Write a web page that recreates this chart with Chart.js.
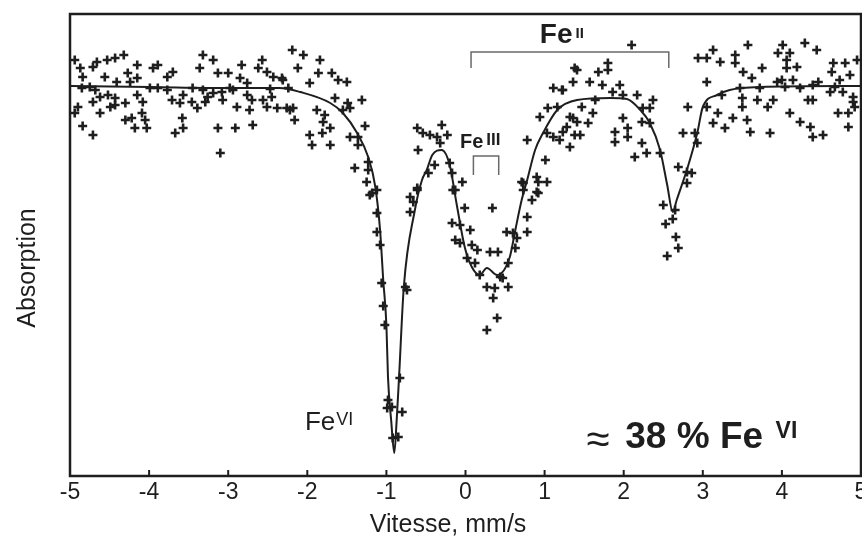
<!DOCTYPE html>
<html>
<head>
<meta charset="utf-8">
<script src="https://cdn.jsdelivr.net/npm/chart.js@4.4.1/dist/chart.umd.min.js"></script>
<style>
html,body{margin:0;padding:0;background:#fff;}
canvas{display:block;}
</style>
</head>
<body>
<canvas id="c" width="862" height="538"></canvas>
<script>
// ---- data (velocity in mm/s, relative transmission) ----
const xTicks = [-5, -4, -3, -2, -1, 0, 1, 2, 3, 4, 5];

const pointVelocity = [
  -4.94,-4.87,-4.66,-4.53,-4.43,-4.32,-4.15,-3.95,-3.89,-3.70,
  -3.77,-4.56,-4.41,-4.27,-4.15,-4.24,-4.84,-4.71,-4.85,-4.68,
  -4.90,-4.94,-4.84,-4.71,-4.62,-4.71,-4.62,-4.52,-4.43,-4.49,
  -4.43,-4.30,-4.15,-4.08,-4.09,-4.30,-4.22,-4.18,-4.03,-4.05,
  -3.89,-3.77,-3.71,-3.61,-3.58,-3.57,-3.67,-3.57,-3.45,-3.46,
  -3.39,-3.32,-3.26,-3.29,-3.19,-3.08,-3.07,-3.13,-2.91,-3.10,
  -2.94,-2.89,-2.76,-2.70,-2.69,-2.73,-2.56,-2.51,-2.45,-2.38,
  -2.26,-2.16,-2.22,-3.32,-3.19,-3.36,-3.13,-3.00,-2.83,-2.85,
  -2.76,-2.57,-2.62,-2.51,-2.43,-2.32,-2.19,-2.12,-4.75,-3.99,
  -2.98,-2.47,
  -2.05,-1.84,-1.86,-1.69,-1.61,-1.50,-1.97,-2.31,-2.24,-2.18,
  -1.88,-1.78,-1.80,-1.71,-1.97,-1.94,-1.71,-1.81,-1.65,-1.49,
  -1.46,-1.31,-1.55,-1.27,-1.46,-1.36,-1.36,-1.40,-1.23,-1.23,
  -1.25,-1.18,-1.12,-0.61,-0.54,-0.45,-0.36,-0.30,-0.32,-0.23,
  -0.60,-0.39,-0.47,-0.20,-0.04,-0.17,-0.13,-0.61,0.78,1.01,
  0.90,0.71,0.92,1.03,0.90,0.94,1.04,1.16,1.11,1.22,
  1.36,1.41,1.03,1.11,1.19,1.28,1.32,1.36,1.38,
  2.10,1.38,1.80,1.68,1.80,1.57,1.73,1.95,1.23,1.86,
  1.99,2.17,2.37,1.64,1.47,1.61,2.24,2.33,1.32,1.41,
  1.55,1.23,1.45,1.89,2.05,1.99,2.05,2.23,2.33,1.89,
  2.23,2.46,2.14,2.29,2.75,2.69,2.80,2.86,2.80,2.90,
  2.93,2.81,2.94,3.05,3.13,3.22,3.41,3.41,3.57,3.51,
  3.75,3.62,3.05,3.24,3.05,3.19,3.13,3.28,3.38,3.50,
  3.56,3.60,3.85,3.82,3.89,3.69,3.50,4.01,3.95,4.10,
  4.06,4.29,4.44,4.06,4.19,4.00,4.14,4.10,4.23,4.33,
  4.39,4.36,4.39,4.52,4.46,4.65,4.80,4.63,4.73,4.86,
  4.95,4.61,4.77,4.90,4.90,4.92,4.71,4.84,4.84,4.39,
  4.23,3.72,3.47,3.94,4.04,4.67,
  -1.21,-1.12,-1.12,-1.08,-1.06,-1.04,-1.02,-0.83,-0.76,-0.74,
  -0.70,-0.66,-0.70,-0.61,-0.16,-0.01,-0.17,-0.07,0.06,-0.13,
  -0.07,0.08,0.15,0.02,0.12,0.18,0.34,0.31,0.41,0.44,
  0.47,0.27,0.37,0.54,0.35,0.40,0.27,0.54,0.52,0.60,
  0.65,0.78,0.63,0.78,0.84,0.92,0.73,0.73,-0.98,-0.99,
  -0.93,-0.80,-0.92,-0.85,2.50,2.65,2.62,2.53,2.66,2.69,
  2.55
];

const pointSignal = [
  1.013,1.009,1.012,1.013,1.014,1.0155,1.0105,1.009,1.0105,1.007,
  1.0045,1.0045,1.002,1.0065,1.004,1.002,1.0045,1.0095,0.999,0.998,
  0.9895,0.9865,0.980,0.9755,0.9865,0.992,0.9945,0.9955,0.994,0.9895,
  0.9905,0.9915,0.9955,0.992,0.9865,0.983,0.984,0.979,0.979,0.983,
  0.999,0.998,0.993,0.9915,0.984,0.979,0.9765,0.9955,0.999,0.992,
  0.989,0.998,0.9945,0.992,0.9965,0.997,0.993,0.979,0.979,0.9665,
  0.998,0.9895,0.9955,0.993,0.9805,0.988,0.993,0.9895,0.9945,0.989,
  0.989,0.983,0.988,1.0155,1.013,1.009,1.0065,1.0065,1.0105,1.004,
  1.0015,1.013,1.009,1.007,1.0045,1.004,1.018,1.009,0.9995,0.999,
  0.999,0.9985,
  1.0155,1.013,1.0065,1.0065,1.003,1.002,1.0015,1.003,0.999,0.989,
  0.988,0.9855,0.982,0.979,0.9755,0.9705,0.9705,0.9765,0.994,0.9915,
  0.989,0.993,0.988,0.980,0.9745,0.9745,0.9705,0.959,0.962,0.958,
  0.952,0.9465,0.948,0.979,0.9765,0.9755,0.9745,0.9805,0.9715,0.9755,
  0.968,0.9605,0.9565,0.9615,0.952,0.9565,0.948,0.948,0.973,0.963,
  0.9545,0.952,0.952,0.952,0.947,0.9845,0.989,0.9895,0.999,0.998,
  1.002,1.008,0.9765,0.9745,0.973,0.9795,0.9695,0.984,0.9755,
  1.0205,1.009,1.0115,1.007,1.008,1.002,1.0005,1.0005,0.998,0.997,
  0.9955,0.9955,0.993,0.993,0.9895,0.9865,0.989,0.989,0.9845,0.982,
  0.9815,0.977,0.9755,0.977,0.979,0.984,0.9745,0.982,0.9815,0.972,
  0.9715,0.9665,0.9645,0.9665,0.9765,0.9595,0.957,0.9565,0.9515,0.9765,
  0.9715,0.9895,1.014,1.014,1.018,1.012,1.0155,1.0115,1.0205,1.007,
  1.009,1.004,1.002,0.9955,0.9895,0.9865,0.9815,0.979,0.984,0.9895,
  0.983,0.977,0.9765,0.9895,0.993,0.993,0.994,1.0205,1.0165,1.0165,
  1.013,1.0215,1.018,1.009,1.0095,1.003,1.003,0.9865,0.982,0.993,
  0.993,0.9795,0.9745,0.9755,1.002,1.0115,1.0115,1.007,1.003,1.0055,
  1.013,0.997,0.997,0.9945,0.992,0.9895,0.9865,0.9865,0.9795,1.0005,
  0.999,0.999,0.999,1.002,0.9995,0.9995,
  0.9455,0.9365,0.927,0.9205,0.9015,0.890,0.8805,0.854,0.8995,0.898,
  0.9445,0.942,0.937,0.949,0.948,0.939,0.9315,0.9305,0.928,0.923,
  0.9215,0.9205,0.918,0.914,0.9115,0.9055,0.939,0.917,0.917,0.9045,
  0.904,0.8995,0.899,0.8995,0.894,0.884,0.878,0.9115,0.927,0.9265,
  0.924,0.927,0.919,0.9345,0.943,0.9465,0.948,0.9515,0.843,0.839,
  0.8395,0.837,0.824,0.8245,0.9405,0.938,0.9335,0.931,0.9245,0.919,
  0.915
];

const fitVelocity = [
  -5.00,-3.99,-2.98,-2.35,-2.09,-1.71,-1.55,-1.37,-1.23,-1.14,
  -1.08,-1.04,-1.00,-0.98,-0.94,-0.90,-0.87,-0.84,-0.78,-0.64,
  -0.55,-0.49,-0.42,-0.30,-0.20,-0.11,-0.01,0.08,0.18,0.27,
  0.40,0.56,0.63,0.71,0.78,0.88,0.98,1.16,1.41,1.83,
  2.04,2.21,2.33,2.46,2.55,2.62,2.67,2.81,2.93,3.00,
  3.18,3.34,3.72,5.00
];
const fitSignal = [
  1.000,0.9995,0.999,0.999,0.997,0.9915,0.9865,0.9765,0.9645,0.9495,
  0.928,0.903,0.8805,0.8545,0.833,0.8165,0.833,0.8545,0.8995,0.938,
  0.953,0.958,0.9655,0.968,0.9605,0.9405,0.9195,0.9095,0.9055,0.909,
  0.9055,0.9145,0.928,0.943,0.953,0.968,0.9765,0.988,0.993,0.994,
  0.9935,0.988,0.9815,0.968,0.9505,0.937,0.943,0.9595,0.9765,0.9895,
  0.9955,0.998,0.9995,1.000
];

const xTitle = 'Vitesse, mm/s';
const yTitle = 'Absorption';

// ---- styling ----
const INK = '#1e1e1e';
const SANS = "'Liberation Sans', Arial, Helvetica, sans-serif";
const NARROW = "'Liberation Sans Narrow', 'Liberation Sans', Arial, sans-serif";

const measured = pointVelocity.map((v, i) => ({ x: v, y: pointSignal[i] }));
const fitted = fitVelocity.map((v, i) => ({ x: v, y: fitSignal[i] }));

const decor = {
  id: 'decor',
  afterDraw(chart) {
    const { ctx, chartArea: a, scales: { x, y } } = chart;
    const X = v => x.getPixelForValue(v);
    const Y = t => y.getPixelForValue(t);
    ctx.save();
    // frame
    ctx.strokeStyle = INK;
    ctx.lineWidth = 2.5;
    ctx.strokeRect(a.left, a.top, a.right - a.left, a.bottom - a.top);
    // inward tick marks
    ctx.lineWidth = 2;
    xTicks.forEach(v => {
      const px = X(v);
      ctx.beginPath();
      ctx.moveTo(px, a.bottom);
      ctx.lineTo(px, a.bottom - 6);
      ctx.stroke();
    });
    // brackets
    ctx.strokeStyle = '#6a6a6a';
    ctx.lineWidth = 1.5;
    const bracket = (v1, v2, tTop, tEnd) => {
      ctx.beginPath();
      ctx.moveTo(X(v1), Y(tEnd));
      ctx.lineTo(X(v1), Y(tTop));
      ctx.lineTo(X(v2), Y(tTop));
      ctx.lineTo(X(v2), Y(tEnd));
      ctx.stroke();
    };
    bracket(0.07, 2.57, 1.017, 1.009);
    bracket(0.10, 0.42, 0.965, 0.9555);

    // labels
    ctx.fillStyle = INK;
    ctx.textBaseline = 'alphabetic';
    ctx.textAlign = 'left';
    const label = (v, t, main, mainFont, sup, supFont, supRise, gap) => {
      ctx.font = mainFont;
      const px = X(v), py = Y(t);
      ctx.fillText(main, px, py);
      const w = ctx.measureText(main).width;
      ctx.font = supFont;
      ctx.fillText(sup, px + w + gap, py - supRise);
    };
    label(0.94, 1.0215, 'Fe', 'bold 28px ' + SANS, 'II', 'bold 15px ' + SANS, 5, 3);
    label(-0.07, 0.969, 'Fe', 'bold 20px ' + SANS, 'III', 'bold 17px ' + SANS, 3, 3);
    label(-2.03, 0.828, 'Fe', '26px ' + SANS, 'VI', '18px ' + SANS, 5, 1);

    // ≈ 38 % Fe VI
    ctx.font = '42px ' + SANS;
    ctx.fillText('\u2248', X(1.53), Y(0.8165));
    ctx.font = 'bold 37px ' + SANS;
    ctx.fillText('38 % Fe', X(2.02), Y(0.819));
    ctx.font = 'bold 23px ' + SANS;
    ctx.fillText('VI', X(3.92), Y(0.824));

    // axis titles
    ctx.font = '25px ' + SANS;
    ctx.textAlign = 'center';
    ctx.textBaseline = 'middle';
    ctx.fillText(xTitle, X(-0.22), a.bottom + 49);
    ctx.translate(a.left - 42, Y(0.909));
    ctx.rotate(-Math.PI / 2);
    ctx.fillText(yTitle, 0, 0);
    ctx.restore();
  }
};

new Chart(document.getElementById('c'), {
  type: 'scatter',
  data: {
    datasets: [
      {
        label: 'fit',
        data: fitted,
        showLine: true,
        borderColor: INK,
        borderWidth: 2,
        pointRadius: 0,
        cubicInterpolationMode: 'monotone',
        fill: false
      },
      {
        label: 'mesures',
        data: measured,
        showLine: false,
        pointStyle: 'cross',
        pointRadius: 4.5,
        borderColor: INK,
        backgroundColor: INK,
        pointBorderWidth: 2.6
      }
    ]
  },
  options: {
    responsive: false,
    animation: false,
    devicePixelRatio: 1,
    layout: { autoPadding: false, padding: { top: 14, right: 1, bottom: 0, left: 0 } },
    plugins: { legend: { display: false }, tooltip: { enabled: false } },
    scales: {
      x: {
        type: 'linear',
        position: 'bottom',
        min: -5,
        max: 5,
        afterBuildTicks: s => { s.ticks = xTicks.map(v => ({ value: v })); },
        ticks: {
          color: INK,
          font: { family: NARROW, size: 23 },
          padding: 3,
          autoSkip: false,
          maxRotation: 0,
          callback: v => String(v)
        },
        grid: { display: false, drawTicks: false },
        border: { display: false },
        afterFit: s => { s.paddingLeft = 0; s.paddingRight = 0; s.height = 62; }
      },
      y: {
        type: 'linear',
        min: 0.805,
        max: 1.036,
        ticks: { display: false },
        grid: { display: false, drawTicks: false },
        border: { display: false },
        afterFit: s => { s.width = 70; s.paddingTop = 0; s.paddingBottom = 0; }
      }
    }
  },
  plugins: [decor]
});
</script>
</body>
</html>
